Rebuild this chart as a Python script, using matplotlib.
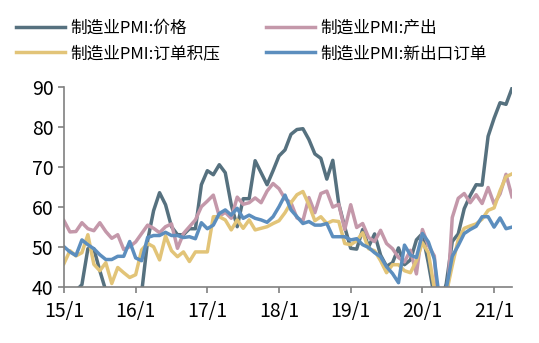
import numpy as np
import matplotlib
matplotlib.use("Agg")
import matplotlib.pyplot as plt

plt.rcParams['font.family'] = ['Noto Sans CJK SC', 'DejaVu Sans']

# monthly data, 2015/1 - 2021/4
price = [35.0, 35.0, 39.0, 40.5, 49.5, 49.5, 44.0, 39.0, 38.0, 39.0, 35.5, 33.5,
         33.5, 38.5, 51.5, 59.0, 63.5, 60.5, 55.0, 53.0, 53.0, 54.5, 54.5, 65.5,
         69.0, 68.0, 70.5, 68.5, 60.5, 55.0, 62.0, 62.0, 71.5, 68.5, 65.5, 69.0,
         72.7, 74.2, 78.1, 79.3, 79.5, 76.8, 73.2, 72.1, 66.9, 71.6, 60.7, 54.9,
         49.6, 49.4, 54.3, 50.0, 53.2, 47.9, 45.1, 46.0, 49.7, 45.5, 46.7, 51.7,
         53.3, 45.9, 37.4, 35.3, 40.8, 51.3, 53.2, 59.5, 62.8, 65.5, 65.4, 77.6,
         82.1, 86.0, 85.6, 89.6]
output = [56.5, 53.7, 53.8, 56.0, 54.5, 54.0, 56.0, 53.8, 52.1, 53.0, 49.3, 50.0,
          51.2, 53.3, 55.4, 54.6, 53.5, 55.0, 55.7, 49.6, 53.3, 55.0, 56.7, 60.0,
          61.4, 62.9, 57.6, 58.6, 57.1, 62.4, 60.6, 61.0, 62.2, 61.0, 63.9, 65.8,
          64.5, 62.0, 61.0, 57.2, 56.5, 62.3, 58.5, 63.3, 63.9, 59.9, 60.6, 54.3,
          60.5, 54.8, 55.8, 52.3, 51.3, 54.1, 50.8, 49.5, 47.3, 46.2, 49.1, 43.2,
          54.3, 50.3, 47.7, 27.5, 33.2, 57.3, 62.1, 63.3, 61.0, 63.0, 60.8, 64.8,
          60.7, 63.2, 68.1, 62.5]
backlog = [45.8, 49.0, 47.7, 48.5, 53.0, 45.6, 44.0, 46.0, 40.8, 44.8, 43.5, 42.3,
           43.0, 49.2, 50.8, 50.0, 46.7, 52.7, 49.0, 47.5, 48.7, 46.3, 48.7, 48.7,
           48.7, 57.5, 57.5, 56.7, 54.2, 56.7, 54.6, 56.7, 54.2, 54.6, 55.0, 55.8,
           56.5, 58.5, 61.0, 63.0, 63.8, 60.5, 56.5, 57.5, 55.8, 56.5, 56.3, 50.8,
           50.5, 51.5, 53.5, 49.5, 49.0, 46.5, 43.5, 45.5, 45.5, 44.0, 43.5, 46.5,
           51.0, 48.5, 39.5, 37.8, 38.3, 45.3, 51.8, 54.6, 55.2, 55.7, 56.9, 59.1,
           59.7, 64.0, 67.5, 68.2]
export = [50.0, 48.7, 47.8, 51.7, 50.5, 49.5, 48.0, 46.8, 46.8, 47.6, 47.6, 51.3,
          47.2, 46.5, 52.3, 52.8, 52.8, 53.6, 52.8, 52.8, 52.3, 52.5, 52.0, 56.0,
          54.5, 55.4, 58.3, 59.2, 57.9, 59.6, 57.1, 57.9, 57.1, 56.7, 56.1, 57.5,
          60.0, 62.9, 59.2, 57.5, 55.8, 56.3, 55.4, 55.4, 55.8, 52.5, 52.5, 52.5,
          51.7, 52.0, 50.5, 49.8, 48.5, 47.5, 45.0, 43.3, 41.0, 50.4, 47.9, 47.3,
          53.3, 51.2, 46.9, 35.3, 39.5, 47.6, 50.3, 53.3, 54.3, 55.1, 57.5, 57.5,
          54.9, 57.2, 54.5, 54.9]
tick_labels = ['15/1', '16/1', '17/1', '18/1', '19/1', '20/1', '21/1']

x = np.arange(len(price))

fig = plt.figure(figsize=(5.39, 3.43), dpi=100)
ax = fig.add_axes([0.1187, 0.1641, 0.8312, 0.5831])

lw = 2.5
l1, = ax.plot(x, price, color='#56717F', lw=lw, label='制造业PMI:价格')
l2, = ax.plot(x, output, color='#C498AA', lw=lw, label='制造业PMI:产出')
l3, = ax.plot(x, backlog, color='#E2C478', lw=lw, label='制造业PMI:订单积压')
l4, = ax.plot(x, export, color='#5C8EBE', lw=lw, label='制造业PMI:新出口订单')

ax.set_xlim(0, len(price) - 1)
ax.set_ylim(40, 90)
ax.set_yticks(range(40, 91, 10))
ax.set_xticks(np.arange(len(tick_labels)) * 12)
ax.set_xticklabels(tick_labels)

for s in ['top', 'right']:
    ax.spines[s].set_visible(False)
for s in ['left', 'bottom']:
    ax.spines[s].set_color('#808080')
    ax.spines[s].set_linewidth(1.2)
ax.tick_params(axis='both', colors='#808080', labelcolor='black', labelsize=14,
               length=4.5, width=1.2)
ax.tick_params(axis='x', pad=6)
ax.tick_params(axis='y', pad=3)

fig.legend([l1, l3, l2, l4], [l1.get_label(), l3.get_label(), l2.get_label(), l4.get_label()],
           ncol=2, loc='upper left', bbox_to_anchor=(16 / 539, 1 - 20 / 343),
           frameon=False, fontsize=12, handlelength=2.94, handletextpad=0.31,
           columnspacing=2.75, labelspacing=0.5, borderpad=0, borderaxespad=0)

plt.savefig('out.png', dpi=100)
